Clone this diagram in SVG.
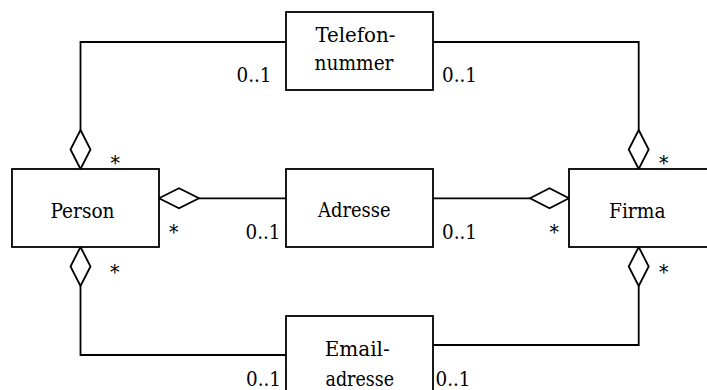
<svg xmlns="http://www.w3.org/2000/svg" width="707" height="390" viewBox="0 0 707 390">
<defs>
<style>
.box{fill:#fff;stroke:#000;stroke-width:1.8}
.ln{fill:none;stroke:#000;stroke-width:1.8}
.dia{fill:#fff;stroke:#000;stroke-width:1.8;stroke-linejoin:miter}
text{font-family:'DejaVu Serif Condensed','DejaVu Serif','Liberation Serif',serif;font-size:21px;fill:#000}
</style>
</defs>
<rect width="707" height="390" fill="#fff"/>
<g id="connectors">
<polyline class="ln" points="286,42 80.5,42 80.5,130"/>
<polygon class="dia" points="80.5,130 90.5,149.5 80.5,169 70.5,149.5"/>
<polyline class="ln" points="433,42 638.7,42 638.7,130"/>
<polygon class="dia" points="638.7,130 648.7,149.5 638.7,169 628.7,149.5"/>
<line class="ln" x1="286" y1="198.3" x2="199" y2="198.3"/>
<polygon class="dia" points="159,198.3 179,188.3 199,198.3 179,208.3"/>
<line class="ln" x1="433" y1="198.3" x2="530" y2="198.3"/>
<polygon class="dia" points="530,198.3 549.5,188.3 569,198.3 549.5,208.3"/>
<polyline class="ln" points="286,355 80.5,355 80.5,286"/>
<polygon class="dia" points="80.5,247 90.5,266.5 80.5,286 70.5,266.5"/>
<polyline class="ln" points="433,345 638.7,345 638.7,286"/>
<polygon class="dia" points="638.7,247 648.7,266.5 638.7,286 628.7,266.5"/>
<text x="236.5" y="82" textLength="35" lengthAdjust="spacingAndGlyphs">0..1</text>
<text x="442" y="82" textLength="35" lengthAdjust="spacingAndGlyphs">0..1</text>
<text x="245.5" y="239" textLength="35" lengthAdjust="spacingAndGlyphs">0..1</text>
<text x="442" y="239" textLength="35" lengthAdjust="spacingAndGlyphs">0..1</text>
<text x="246" y="386" textLength="35" lengthAdjust="spacingAndGlyphs">0..1</text>
<text x="435.5" y="386" textLength="35" lengthAdjust="spacingAndGlyphs">0..1</text>
<text x="110.5" y="170">*</text>
<text x="169" y="239">*</text>
<text x="110" y="279">*</text>
<text x="659" y="170">*</text>
<text x="549.5" y="239">*</text>
<text x="659" y="279">*</text>
</g>
<g id="telefonnummer">
<rect class="box" x="286" y="12" width="147" height="78"/>
<text x="315.5" y="42.3" textLength="80" lengthAdjust="spacingAndGlyphs">Telefon-</text>
<text x="314.5" y="70" textLength="79" lengthAdjust="spacingAndGlyphs">nummer</text>
</g>
<g id="person">
<rect class="box" x="12" y="169" width="147" height="78"/>
<text x="50.5" y="217.5" textLength="64" lengthAdjust="spacingAndGlyphs">Person</text>
</g>
<g id="adresse">
<rect class="box" x="286" y="169" width="147" height="78"/>
<text x="318" y="217.3" textLength="72.5" lengthAdjust="spacingAndGlyphs">Adresse</text>
</g>
<g id="firma">
<rect class="box" x="569" y="169" width="147" height="78"/>
<text x="609" y="218" textLength="56.5" lengthAdjust="spacingAndGlyphs">Firma</text>
</g>
<g id="emailadresse">
<rect class="box" x="286" y="316" width="147" height="79"/>
<text x="324.7" y="356" textLength="65" lengthAdjust="spacingAndGlyphs">Email-</text>
<text x="325.5" y="385.5" textLength="68.5" lengthAdjust="spacingAndGlyphs">adresse</text>
</g>
</svg>
